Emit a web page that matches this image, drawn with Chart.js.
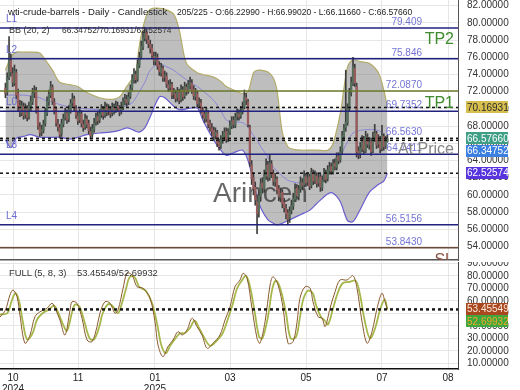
<!DOCTYPE html>
<html><head><meta charset="utf-8">
<script src="https://cdn.jsdelivr.net/npm/chart.js@4/dist/chart.umd.min.js"></script>
<style>
html,body{margin:0;padding:0;background:#fff;}
#wrap{position:relative;width:520px;height:390px;overflow:hidden;font-family:"Liberation Sans",Arial,sans-serif;background:#fff;}
canvas{position:absolute;left:0;}
.t{position:absolute;white-space:pre;color:#222;line-height:1;}
</style></head><body>
<div id="wrap">
<canvas id="main" width="520" height="262" style="top:0"></canvas>
<canvas id="osc" width="520" height="128" style="top:262px"></canvas>
<div class="t" style="left:8px;top:7px;font-size:9.6px">wti-crude-barrels - Daily - Candlestick</div>
<div class="t" style="left:177px;top:7.5px;font-size:8.5px">205/225 - O:66.22990 - H:66.99020 - L:66.11660 - C:66.57660</div>
<div class="t" style="left:9px;top:25.5px;font-size:9px;color:#333">BB (20, 2)</div>
<div class="t" style="left:62px;top:26px;font-size:8.4px;color:#333">66.34752/70.16931/62.52574</div>
<div class="t" style="left:9px;top:268px;font-size:9.4px;color:#333">FULL (5, 8, 3)</div>
<div class="t" style="left:77px;top:268px;font-size:9.4px;color:#333">53.45549/52.69932</div>
</div>
<script>
// ---------- DATA ----------
const tickIdx = [4.2, 40.1, 82.6, 124.1, 166.1, 208.0, 244.5];
const tickText = [['10','2024'],['11'],['01','2025'],['03'],['05'],['07'],['08']];

const openVals = [
72.4,71.9,73.7,75.6,74.1,73.0,74.2,71.8,70.4,69.5,
70.3,69.3,70.0,69.1,70.2,70.8,71.9,72.1,70.0,67.9,
67.3,67.5,68.3,69.5,70.8,71.6,72.5,70.8,69.9,68.3,
67.8,67.1,68.2,69.0,69.5,68.8,69.8,70.7,71.1,70.0,
69.2,68.7,69.4,68.2,67.9,68.8,68.3,67.4,67.0,67.6,
68.5,69.1,68.7,69.3,69.9,69.3,70.2,69.7,69.9,69.5,
70.1,69.9,70.3,70.0,69.7,70.2,70.9,71.1,70.8,71.5,
72.4,73.4,74.0,73.5,75.1,76.1,77.2,78.2,78.9,78.0,
77.5,77.1,76.1,75.5,76.0,75.1,74.2,74.7,73.7,73.8,
72.8,72.5,72.8,71.7,71.8,71.3,71.9,71.1,72.2,71.5,
72.5,72.1,72.7,73.0,72.3,71.4,71.8,70.7,70.7,69.8,
69.4,68.8,69.5,68.3,67.8,67.5,66.9,67.2,66.1,65.7,
66.3,66.8,67.4,66.6,67.3,68.0,68.7,68.1,69.1,69.4,
69.2,69.7,70.3,71.3,70.8,67.9,63.5,62.0,60.9,59.2,
58.0,59.8,61.4,60.7,62.2,63.5,62.0,63.6,62.5,61.5,
61.8,60.7,59.7,60.3,59.1,58.4,57.9,57.3,58.2,58.7,
59.5,60.8,59.8,60.7,61.4,61.2,62.1,61.5,62.1,61.1,
62.5,61.7,62.2,61.4,62.1,60.8,61.8,62.5,61.9,62.8,
63.3,62.7,63.7,63.2,64.5,64.1,65.1,66.8,67.8,68.4,
70.1,71.9,73.0,74.7,72.6,65.1,64.7,65.4,66.4,65.1,
66.7,65.8,66.2,65.1,66.6,67.1,65.9,66.5,65.4,66.8,
65.7,66.23];
const highVals = [
73.0,74.2,78.4,76.4,74.8,75.1,74.6,72.3,71.0,70.9,
70.7,70.6,70.4,70.8,71.5,72.4,72.7,72.5,70.3,68.4,
68.1,68.7,70.1,71.4,72.2,73.2,72.8,71.2,70.2,68.8,
68.2,68.8,69.4,70.1,69.9,70.4,71.1,71.8,71.5,70.4,
69.7,70.0,69.8,68.7,69.4,69.2,68.7,67.9,68.2,68.9,
69.5,69.6,69.9,70.5,70.3,70.8,70.6,70.5,70.3,70.7,
70.6,70.9,70.8,70.4,70.8,71.3,71.7,71.6,71.9,72.8,
74.0,74.7,74.4,75.7,76.6,77.9,79.0,79.5,79.3,78.5,
78.0,77.5,76.6,76.6,76.4,75.5,75.3,75.0,74.4,74.2,
73.3,73.4,73.1,72.4,72.2,72.5,72.3,72.8,72.6,73.1,
72.9,73.3,73.7,73.4,72.7,72.4,72.1,71.3,71.1,70.2,
69.8,70.1,69.8,68.7,68.3,67.9,67.8,67.5,66.5,66.9,
67.4,67.8,67.8,67.7,68.6,69.1,69.1,69.5,70.0,69.9,
70.3,70.8,72.2,71.8,71.1,68.1,64.0,62.6,61.5,60.0,
60.5,61.9,62.0,62.9,64.2,63.9,64.6,64.0,62.9,62.5,
62.1,61.1,60.8,60.6,59.6,58.9,58.3,58.6,59.4,60.2,
61.3,61.2,61.1,62.1,61.9,62.8,62.5,62.6,62.4,63.1,
62.9,62.8,62.6,62.5,62.4,62.2,63.1,62.9,63.4,63.8,
63.7,64.1,64.2,64.9,64.9,65.6,67.4,68.2,74.5,70.6,
72.4,73.7,76.0,75.2,73.0,65.6,66.1,66.9,66.8,67.4,
67.1,66.7,66.6,67.3,68.2,67.4,67.0,66.8,68.1,67.1,
66.8,66.99];
const lowVals = [
71.3,71.6,73.4,73.8,72.6,72.7,71.2,69.8,69.1,69.2,
68.8,68.9,68.6,68.8,69.8,70.5,71.3,69.5,67.6,66.8,
66.9,67.2,68.0,69.2,70.4,71.3,70.5,69.4,68.0,67.4,
66.6,66.8,67.9,68.7,68.3,68.5,69.5,70.3,69.7,68.9,
68.2,68.4,67.9,67.4,67.6,67.8,67.1,66.5,66.7,67.3,
68.1,68.2,68.4,69.0,68.8,69.0,69.2,69.3,69.0,69.2,
69.4,69.6,69.7,69.2,69.4,69.9,70.5,70.3,70.5,71.2,
72.1,73.0,73.0,73.2,74.8,75.8,76.9,77.9,77.6,77.1,
76.5,75.8,75.1,75.1,74.6,73.9,73.8,73.2,73.2,72.5,
72.0,72.1,71.2,71.2,70.8,70.9,70.6,70.8,71.0,71.2,
71.6,71.8,72.3,71.8,71.1,71.0,70.2,70.2,69.5,68.9,
68.4,68.5,67.8,67.4,66.9,66.3,66.5,65.6,65.2,65.4,
66.0,66.4,66.1,66.2,67.0,67.7,67.8,67.8,68.7,68.7,
68.9,69.4,70.0,70.5,67.9,63.3,61.2,60.0,58.8,55.5,
57.4,59.3,60.2,60.3,61.8,61.6,61.7,62.0,61.1,61.0,
60.1,59.3,59.2,58.5,58.0,57.2,56.5,56.8,57.8,58.3,
59.2,59.5,59.4,60.3,60.6,60.9,61.0,61.1,60.6,60.8,
61.2,61.3,60.9,61.0,60.4,60.5,61.5,61.4,61.6,62.4,
62.4,62.4,62.9,62.9,63.6,63.8,64.8,66.4,67.4,68.1,
69.8,71.5,72.7,72.6,64.4,64.2,64.3,65.0,64.8,64.9,
65.5,65.3,64.6,64.9,66.2,65.4,65.5,64.9,65.1,65.2,
65.4,66.12];
const closeVals = [
71.8,73.6,75.9,74.3,73.1,74.4,71.6,70.2,69.6,70.4,
69.2,70.1,69.0,70.3,70.9,71.8,72.0,69.9,68.0,67.2,
67.6,68.2,69.6,70.9,71.7,72.6,70.9,69.8,68.4,67.9,
67.0,68.3,68.9,69.6,68.7,69.9,70.6,71.2,70.1,69.3,
68.6,69.5,68.3,67.8,68.9,68.2,67.5,66.9,67.7,68.4,
69.0,68.6,69.4,70.0,69.2,70.3,69.6,70.0,69.4,70.2,
69.8,70.4,70.1,69.6,70.3,70.8,71.2,70.7,71.4,72.3,
73.5,74.1,73.4,75.2,76.0,77.3,78.3,78.8,78.1,77.6,
77.0,76.2,75.6,76.1,75.0,74.3,74.8,73.6,73.9,72.9,
72.4,72.9,71.6,71.9,71.2,72.0,71.0,72.3,71.4,72.6,
72.0,72.8,73.1,72.2,71.5,71.9,70.6,70.8,69.9,69.3,
68.9,69.6,68.2,67.9,67.4,66.8,67.3,66.0,65.6,66.4,
66.9,67.3,66.5,67.2,68.1,68.6,68.2,69.0,69.5,69.1,
69.8,70.2,71.4,71.0,68.2,63.8,61.9,60.7,59.4,57.8,
59.9,61.3,60.8,62.3,63.4,62.1,63.7,62.4,61.6,61.9,
60.6,59.8,60.2,59.0,58.5,57.8,57.2,58.1,58.8,59.6,
60.7,59.9,60.6,61.5,61.1,62.2,61.4,62.0,61.0,62.6,
61.6,62.3,61.3,62.0,60.9,61.7,62.6,61.8,62.9,63.2,
62.8,63.6,63.3,64.4,64.0,65.0,66.9,67.7,68.5,70.0,
71.8,73.1,74.9,73.0,65.0,64.6,65.5,66.3,65.2,66.8,
65.9,66.1,65.0,66.7,67.2,65.8,66.4,65.3,66.9,65.6,
66.2,66.5766];

// Bollinger band (20,2) read at sample bars
const bbIdx = [0,3,6,10,14,19,22,26,30,36,40,45,52,58,63,67,70,72,74,77,80,85,88,93,96,100,106,109,115,119,122,126,131,134,137,139,141,145,148,150,153,156,159,163,168,172,178,181,185,189,192,196,201,206,209,211];
const bbUpper = [74.5,76.0,76.6,76.6,76.6,76.5,75.7,74.5,73.1,72.8,72.6,71.9,71.3,71.1,71.4,72.6,73.5,74.2,77.4,80.3,81.6,81.7,81.6,81.0,79.2,75.3,74.2,74.0,73.7,73.2,72.6,72.2,71.8,72.0,74.2,74.5,74.5,74.3,73.6,72.2,67.2,65.6,65.3,65.2,65.2,65.2,65.2,66.0,69.5,74.9,75.7,75.5,75.3,74.2,72.2,70.16931];
const bbMid = [71.6,71.6,71.6,71.6,71.5,71.3,71.0,70.8,70.5,70.2,70.1,70.0,69.9,69.9,70.1,70.4,70.7,71.3,72.0,73.1,74.5,75.3,75.0,74.5,74.0,73.4,72.6,72.1,71.0,69.8,68.7,68.5,68.4,67.9,66.9,66.4,65.6,64.4,63.2,62.8,62.2,61.7,61.5,61.4,61.7,61.9,62.6,63.2,64.5,66.2,67.2,67.5,67.6,67.5,67.0,66.34752];
const bbLower = [66.4,65.5,66.6,66.8,67.0,66.7,66.7,66.7,66.7,66.5,66.7,67.0,67.2,67.3,67.5,67.8,67.6,67.4,67.3,67.8,69.1,71.4,71.3,70.3,69.9,70.0,70.1,68.7,66.4,65.2,64.6,64.9,65.2,64.0,61.5,59.8,58.5,57.1,56.7,56.5,56.7,57.0,57.3,57.7,58.2,59.0,60.1,60.2,59.2,57.0,56.9,58.3,60.3,61.2,61.6,62.52574];

// Full stochastic (5,8,3)
const stochK = [[-3,47],[0,52.6],[2.5,64.6],[4.2,68.6],[6.4,63.2],[8,48.6],[10.8,26],[13.6,32.6],[16.3,47.2],[19.1,51.2],[23,54],[25.7,58],[27.4,54],[30.1,44.6],[32.9,32.6],[35.7,52.6],[36.8,59.2],[39.5,58],[42.3,46],[45.1,28.6],[47.8,27.3],[50.6,39.3],[52.2,50],[55,59.2],[57.8,58],[60.5,50],[62.2,52.6],[65,70],[67.2,82],[69.9,80.6],[72.7,71.2],[76,70],[79.9,62],[82.6,43.2],[84.3,24.6],[87,15.3],[89.8,23.3],[92.6,28.6],[95.3,35.3],[97.6,32.6],[100.3,36.6],[103.1,46],[105.8,39.3],[108.6,32.6],[111.4,22],[114.7,26],[118.5,32.6],[121.3,44.6],[124.1,55.2],[126.8,71.2],[129.6,76.6],[131.3,82],[133.5,78],[136.2,54],[139,30],[140.6,26],[143.4,43.2],[146.2,72.6],[147.8,79.2],[150.6,72.6],[153.4,54],[156.1,26],[158.9,27.3],[161.1,43.2],[162.7,62],[165.5,71.2],[168.3,70],[169.9,59.2],[172.7,47.2],[174.9,46],[176.6,39.3],[179.3,54],[182.1,67.2],[184.8,76.6],[188.7,76.6],[192,80],[194.2,70],[197,43.2],[199.8,26],[202.5,35.3],[205.3,54],[208,66],[209.7,59.2],[211,53.45549]];
const stochD = [[-3,49],[1,50],[3.5,60],[5.5,66],[7.5,60],[9.5,44],[12,29],[15,34],[17.5,45],[20.5,50],[24,53],[27,56],[29,51],[31.5,42],[34,36],[37,52],[38.5,57],[41,55],[43.5,44],[46.5,30],[49,29],[52,40],[53.5,49],[56.5,57],[59,56],[62,50],[63.5,54],[66.5,69],[68.7,79],[71.3,79],[74,71],[77.5,68],[81,58],[84,40],[86,25],[88.5,18],[91,24],[94,30],[96.5,34],[99,34],[101.8,38],[104.5,44],[107,38],[110,30],[113,24],[116,27],[120,34],[122.8,45],[125.5,57],[128,70],[131,77],[132.8,80],[135,72],[137.8,50],[140.2,31],[142,30],[145,47],[147.5,70],[149.5,76],[152,69],[155,50],[157.5,30],[160.5,31],[162.5,45],[164.3,60],[167,68],[169.8,66],[171.5,57],[174.3,47],[176.5,44],[178.2,41],[181,54],[183.5,66],[186.3,74],[190,75],[193.5,76],[195.7,66],[198.5,44],[201.3,30],[204,37],[207,53],[209.5,61],[211,52.69932]];

// Horizontal levels
const levelValues = [79.409, 75.846, 72.087, 69.7352, 66.563, 64.7411, 56.5156, 53.843];
const levelLabels = ['79.409','75.846','72.0870','69.7352','66.5630','64.7411','56.5156','53.8430'];
const levelTags = ['L1','L2','','L0','','L3','L4',''];
const zoneNames = ['TP2','TP1','At Price','SL'];
const zoneAnchors = [78.01, 70.63, 65.22, 52.35];

// Current values (axis badges)
const mainCurrent = [70.16931, 66.5766, 66.34752, 62.52574];
const mainCurrentText = ['70.16931','66.57660','66.34752','62.52574'];
const oscCurrent = [53.45549, 52.69932];
const oscCurrentText = ['53.45549','52.69932'];

// ---------- STYLE ----------
const FONT = '"Liberation Sans", Arial, sans-serif';
Chart.defaults.font.family = FONT;
const xMin = -3, xMax = 250;
const NAVY = '#21217f';
const levelColors = [NAVY, NAVY, '#6a7a2a', NAVY, null, NAVY, NAVY, '#6b4a3a'];
const zoneColors = ['#3f8c2f','#3f8c2f','#858585','#8c5646'];
const mainBadgeBg = ['#d6bf4e','#3f9f86','#3b7fe0','#5734de'];
const mainBadgeFg = ['#2a2a2a','#ffffff','#ffffff','#ffffff'];
const oscBadgeBg = ['#a9481e','#3ea83e'];
const oscBadgeFg = ['#ffe8dc','#f2a52a'];
const UP = '#566e5c', DOWN = '#9a5c5c', WICK = '#3d3d3d';

function setTicks(s){ s.ticks = tickIdx.map(v => ({value: v})); }

function drawBadges(ctx, a, scale, vals, texts, bg, fg){
  const order = vals.map((v,k)=>k).sort((p,q)=>scale.getPixelForValue(vals[p]) - scale.getPixelForValue(vals[q]));
  let prev = -1e9;
  ctx.font = '10px ' + FONT;
  ctx.textBaseline = 'middle';
  ctx.textAlign = 'left';
  order.forEach(k => {
    let py = scale.getPixelForValue(vals[k]);
    if (py < prev + 12.5) py = prev + 12.5;
    prev = py;
    ctx.fillStyle = bg[k];
    ctx.fillRect(a.right + 8, Math.round(py - 6), 42, 12);
    ctx.fillStyle = fg[k];
    ctx.fillText(texts[k], a.right + 9, py + 0.5);
  });
}

function hLine(ctx, a, py, color, w, dash){
  ctx.beginPath();
  ctx.setLineDash(dash || []);
  ctx.strokeStyle = color; ctx.lineWidth = w;
  ctx.moveTo(a.left, py); ctx.lineTo(a.right, py); ctx.stroke();
  ctx.setLineDash([]);
}

const mainDecor = {
  id: 'mainDecor',
  beforeDatasetsDraw(chart){
    const {ctx, chartArea: a} = chart;
    ctx.save();
    ctx.font = '28px ' + FONT;
    ctx.fillStyle = 'rgba(60,60,60,0.78)';
    ctx.textAlign = 'left'; ctx.textBaseline = 'alphabetic';
    ctx.fillText('Arincen', a.left + 213, a.top + 202);
    ctx.restore();
  },
  afterDatasetsDraw(chart){
    const {ctx, chartArea: a, scales: {y}} = chart;
    ctx.save();
    ctx.beginPath(); ctx.rect(a.left, a.top, a.right - a.left, a.bottom - a.top); ctx.clip();
    levelValues.forEach((v,k) => {
      const py = y.getPixelForValue(v);
      if (levelColors[k]) hLine(ctx, a, py, levelColors[k], 1.5);
    });
    mainCurrent.forEach(v => hLine(ctx, a, y.getPixelForValue(v), '#111', 1.5, [3,3]));
    ctx.font = '10px ' + FONT;
    ctx.textBaseline = 'alphabetic';
    levelValues.forEach((v,k) => {
      const py = y.getPixelForValue(v);
      ctx.fillStyle = '#7474d6';
      ctx.textAlign = 'right';
      ctx.fillText(levelLabels[k], a.right - 36, py - 3);
      if (levelTags[k]) {
        ctx.fillStyle = '#6a6ad0';
        ctx.textAlign = 'left';
        ctx.fillText(levelTags[k], a.left + 6, py - 6);
      }
    });
    ctx.font = '16px ' + FONT;
    ctx.textAlign = 'right'; ctx.textBaseline = 'middle';
    zoneNames.forEach((t,k) => {
      ctx.fillStyle = zoneColors[k];
      ctx.fillText(t, a.right - 4, y.getPixelForValue(zoneAnchors[k]));
    });
    ctx.restore();
  },
  afterDraw(chart){
    const {ctx, chartArea: a, scales: {y}} = chart;
    ctx.save();
    drawBadges(ctx, a, y, mainCurrent, mainCurrentText, mainBadgeBg, mainBadgeFg);
    ctx.restore();
  }
};

const oscDecor = {
  id: 'oscDecor',
  afterDatasetsDraw(chart){
    const {ctx, chartArea: a, scales: {y}} = chart;
    ctx.save();
    oscCurrent.forEach(v => hLine(ctx, a, y.getPixelForValue(v), '#111', 1.5, [3,3]));
    ctx.restore();
  },
  afterDraw(chart){
    const {ctx, chartArea: a, scales: {y}} = chart;
    ctx.save();
    drawBadges(ctx, a, y, oscCurrent, oscCurrentText, oscBadgeBg, oscBadgeFg);
    ctx.restore();
  }
};

const idx = closeVals.map((_, i) => i);
const bbPts = arr => bbIdx.map((x, k) => ({x: x, y: arr[k]}));

new Chart(document.getElementById('main'), {
  type: 'bar',
  data: {
    datasets: [
      {type: 'line', data: bbPts(bbUpper), borderColor: '#b3ac68', borderWidth: 1.2, pointRadius: 0, tension: 0.3, fill: false, order: 5},
      {type: 'line', data: bbPts(bbLower), borderColor: '#6a5fd0', borderWidth: 1.2, pointRadius: 0, tension: 0.3, fill: '-1', backgroundColor: 'rgba(120,120,120,0.48)', order: 4},
      {type: 'line', data: bbPts(bbMid), borderColor: '#8a86d6', borderWidth: 1, pointRadius: 0, tension: 0.3, fill: false, order: 3},
      {type: 'bar', data: idx.map(i => ({x: i, y: [lowVals[i], highVals[i]]})), backgroundColor: WICK, barThickness: 1, grouped: false, order: 2},
      {type: 'bar', data: idx.map(i => ({x: i, y: [openVals[i], closeVals[i]]})), backgroundColor: idx.map(i => closeVals[i] >= openVals[i] ? UP : DOWN), barThickness: 1.6, minBarLength: 1, grouped: false, order: 1}
    ]
  },
  options: {
    responsive: false, devicePixelRatio: 1, animation: false, events: [],
    layout: {padding: 0},
    plugins: {legend: {display: false}, tooltip: {enabled: false}, filler: {drawTime: 'beforeDatasetsDraw'}},
    scales: {
      x: {type: 'linear', min: xMin, max: xMax, offset: false,
          afterBuildTicks: setTicks,
          ticks: {display: false},
          grid: {color: '#e6e6e6', drawTicks: false, offset: false},
          border: {display: true, color: '#555', width: 1.5},
          afterFit: s => { s.height = 2; s.paddingLeft = 0; s.paddingRight = 0; }},
      y: {type: 'linear', position: 'right', min: 52.43, max: 82.663,
          ticks: {stepSize: 2, autoSkip: false, includeBounds: false, padding: 9, color: '#333', font: {size: 10}, callback: v => v.toFixed(5)},
          grid: {color: '#e6e6e6', drawTicks: false},
          border: {display: true, color: '#555', width: 1},
          afterFit: s => { s.width = 62; s.paddingTop = 0; s.paddingBottom = 0; }}
    }
  },
  plugins: [mainDecor]
});

new Chart(document.getElementById('osc'), {
  type: 'line',
  data: {
    datasets: [
      {data: stochD.map(p => ({x: p[0], y: p[1]})), borderColor: '#a6b84c', borderWidth: 1.8, pointRadius: 0, tension: 0.35, order: 2},
      {data: stochK.map(p => ({x: p[0], y: p[1]})), borderColor: '#8a5a2e', borderWidth: 1, pointRadius: 0, tension: 0.35, order: 1}
    ]
  },
  options: {
    responsive: false, devicePixelRatio: 1, animation: false, events: [],
    layout: {padding: 0},
    plugins: {legend: {display: false}, tooltip: {enabled: false}},
    scales: {
      x: {type: 'linear', min: xMin, max: xMax, offset: false,
          afterBuildTicks: setTicks,
          ticks: {autoSkip: false, maxRotation: 0, padding: 4, color: '#222', font: {size: 10, lineHeight: 1.05},
                  callback: v => { const k = tickIdx.indexOf(v); return k >= 0 ? tickText[k] : ''; }},
          grid: {color: '#e6e6e6', drawTicks: false},
          border: {display: true, color: '#111', width: 1.5},
          afterFit: s => { s.height = 21; s.paddingLeft = 0; s.paddingRight = 0; }},
      y: {type: 'linear', position: 'right', min: 5.4, max: 91,
          ticks: {stepSize: 10, autoSkip: false, includeBounds: false, padding: 9, color: '#333', font: {size: 10}, callback: v => v.toFixed(5)},
          grid: {color: '#e6e6e6', drawTicks: false},
          border: {display: true, color: '#444', width: 1},
          afterFit: s => { s.width = 62; s.paddingTop = 0; s.paddingBottom = 0; }}
    }
  },
  plugins: [oscDecor]
});
</script>
</body></html>
